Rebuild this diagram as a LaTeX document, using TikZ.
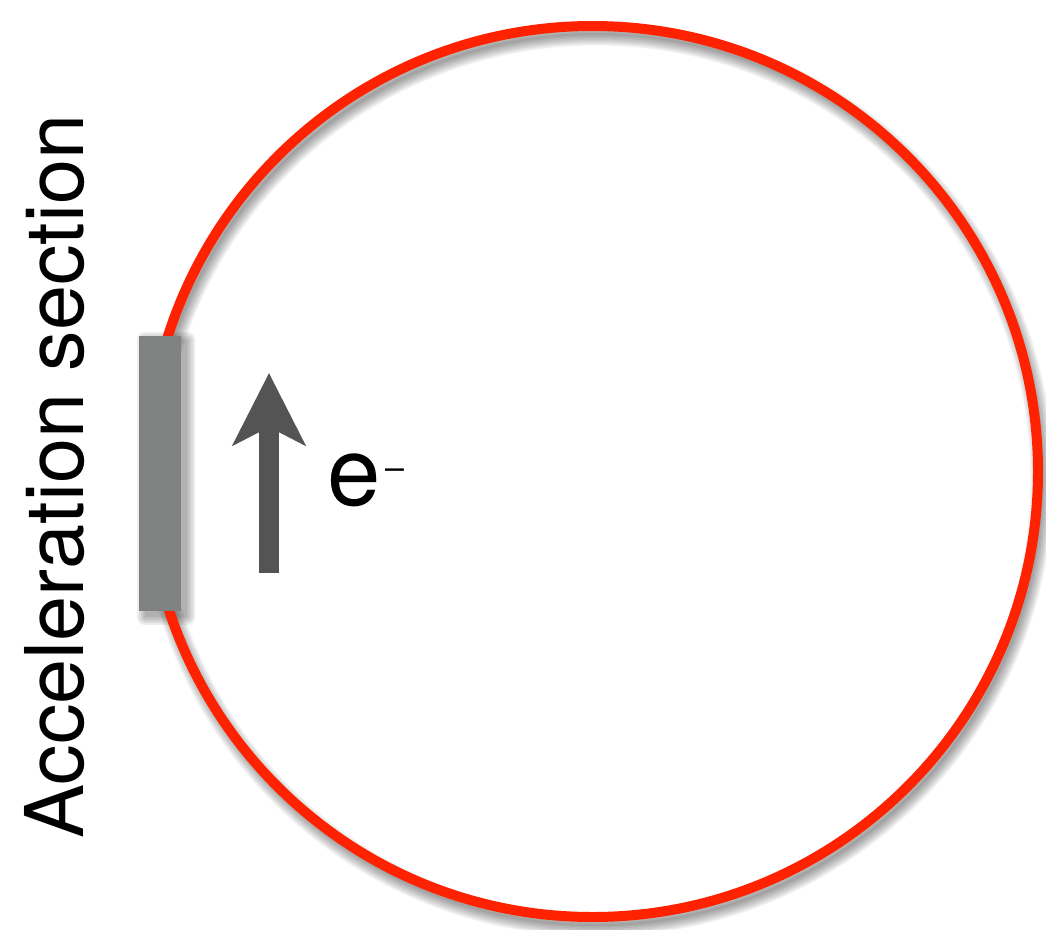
\documentclass[tikz,border=0pt]{standalone}
\usepackage{fontspec}
\setmainfont{TeX Gyre Heros}
\usetikzlibrary{arrows.meta}
\definecolor{ringred}{RGB}{255,34,0}
\definecolor{bargray}{RGB}{126,131,129}
\definecolor{arrowgray}{RGB}{84,84,84}
\tikzset{
  ringstyle/.style={circle, draw=ringred, line width=10pt, minimum size=891pt, inner sep=0pt, outer sep=0pt},
  barstyle/.style={rectangle, fill=bargray, minimum width=42pt, minimum height=275pt, inner sep=0pt, outer sep=0pt},
  flowarrow/.style={draw=arrowgray, line width=20pt, line cap=butt, -{Stealth[length=72pt, width=72pt, inset=18pt]}},
  labelstyle/.style={inner sep=0pt, outer sep=0pt, font=\fontsize{81}{97}\selectfont}
}
\begin{document}
\begin{tikzpicture}[x=1pt, y=-1pt]
\useasboundingbox (0,0) rectangle (1046,929);
% soft shadow of the ring
\foreach \w in {2,5,8,11,14,17,20,23} {
  \draw[black, opacity=0.055, line width=\w pt] (596.5,479.5) circle (445.5);
}
% soft shadow of the bar
\foreach \s in {0,2,4,6,8} {
  \fill[black, opacity=0.07, rounded corners=\s pt] (145-\s,340-\s) rectangle (187+\s,617+\s);
}
\node[ringstyle] (ring) at (592.5,471.5) {};
\node[barstyle] (accel) at (160,473.5) {};
\coordinate (tail) at (269,573);
\coordinate (tip) at (269,373);
\draw[flowarrow] (tail) -- (tip);
\node[labelstyle, anchor=base west, font=\fontsize{96}{110}\selectfont] (elec) at (327,505) {e\kern5pt\raisebox{25.5pt}{\fontsize{34}{34}\selectfont –}};
\node[labelstyle, rotate=90, anchor=base] (label) at (83,476.5) {Acceleration section};
\end{tikzpicture}
\end{document}
